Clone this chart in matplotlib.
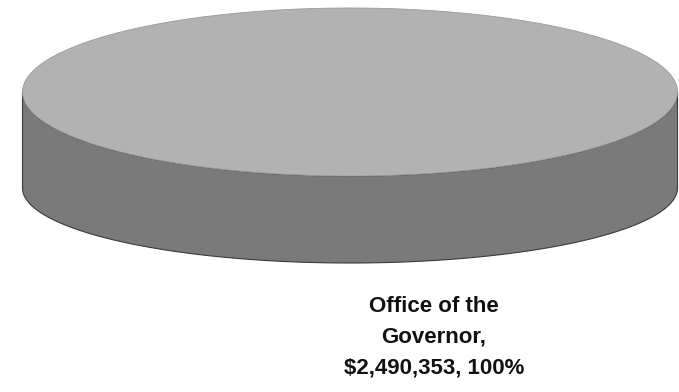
import numpy as np
import matplotlib
matplotlib.use("Agg")
import matplotlib.pyplot as plt
from matplotlib.patches import Polygon

categories = ["Office of the Governor"]
values = [2490353]

fig = plt.figure(figsize=(6.79, 3.92), dpi=100)
ax = fig.add_axes([0, 0, 1, 1])
ax.set_xlim(0, 679)
ax.set_ylim(392, 0)
ax.axis("off")

cx, a = 350.0, 327.5
top_cy, top_b = 92.0, 84.0
bot_cy, bot_b = 188.0, 75.0
top_col = "#b2b2b2"
side_col = "#7a7a7a"

total = sum(values)
start = 90.0
for v in values:
    frac = v / total
    th = np.radians(np.linspace(start, start - 360 * frac, 400))
    t = np.linspace(0, np.pi, 300)
    xs = cx - a * np.cos(t)
    top_y = top_cy + top_b * np.sin(t)
    bot_y = bot_cy + bot_b * np.sin(t)
    side = np.vstack([np.column_stack([xs, top_y]),
                      np.column_stack([xs[::-1], bot_y[::-1]])])
    ax.add_patch(Polygon(side, closed=True, facecolor=side_col,
                         edgecolor="#3a3a3a", linewidth=0.8))
    pts = np.column_stack([cx + a * np.cos(th), top_cy - top_b * np.sin(th)])
    if frac < 1:
        pts = np.vstack([[cx, top_cy], pts])
    ax.add_patch(Polygon(pts, closed=True, facecolor=top_col,
                         edgecolor="#9a9a9a", linewidth=0.6))
    start -= 360 * frac

label = "Office of the\nGovernor,\n${:,}, {:.0f}%".format(values[0], 100 * values[0] / total)
ax.text(434, 337, label, ha="center", va="center", fontsize=16,
        fontweight="bold", family=["Liberation Sans", "DejaVu Sans"],
        linespacing=1.6, color="#111111")

fig.savefig("out.png", dpi=100)
